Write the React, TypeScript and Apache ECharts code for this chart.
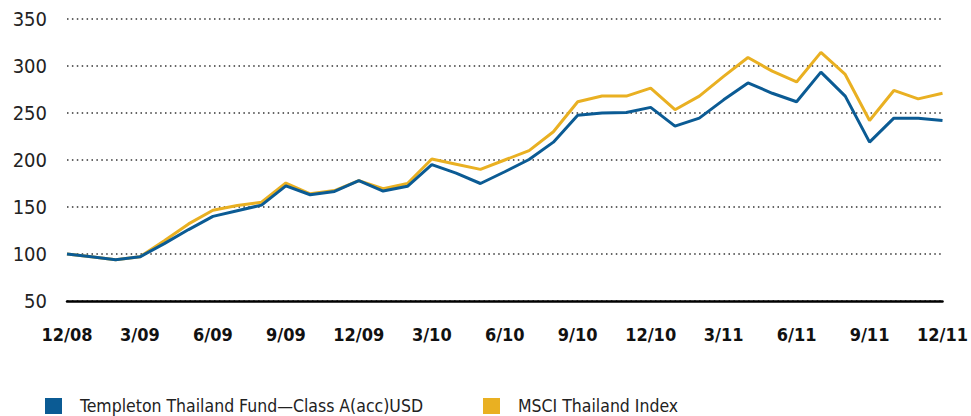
import React, { useEffect, useRef } from "react";
import * as echarts from "echarts";

const months: string[] = (() => {
  const out: string[] = ["12/08"];
  for (let y = 9; y <= 11; y++) {
    for (let m = 1; m <= 12; m++) out.push(`${m}/${String(y).padStart(2, "0")}`);
  }
  return out;
})();

const fundName = "Templeton Thailand Fund\u2014Class A(acc)USD";
const indexName = "MSCI Thailand Index";

const fundValues = [
  100, 97, 94, 97, 111, 126, 140, 146, 152, 172.5, 163, 166.5, 178,
  167, 172, 195, 186, 175, 187.5, 200.5, 219, 247.5, 250, 250.5, 256,
  236, 244.5, 264, 282, 271, 262, 293.5, 268, 219, 244.5, 244.5, 242,
];

const indexValues = [
  100, 97, 94, 97, 114, 132, 146.5, 151.5, 155, 175.5, 164, 167.5, 178,
  169.5, 175, 201, 195.5, 190, 200, 210, 230, 262, 268, 268, 276.5,
  253.5, 268, 289, 309, 294.5, 283, 314.5, 291, 242, 274, 265, 271,
];

const yMin = 50;
const yMax = 350;
const yStep = 50;

const FONT = "'DejaVu Sans Condensed', 'DejaVu Sans', sans-serif";

export default function App() {
  const ref = useRef<HTMLDivElement>(null);
  useEffect(() => {
    if (!ref.current) return;
    const chart = echarts.init(ref.current, undefined, { renderer: "svg" });
    chart.setOption({
      animation: false,
      backgroundColor: "#ffffff",
      grid: { left: 67, right: 25, top: 19, bottom: 115, containLabel: false },
      legend: {
        left: 40,
        top: 392,
        itemWidth: 17,
        itemHeight: 16,
        itemGap: 60,
        icon: "rect",
        textStyle: {
          fontFamily: FONT,
          fontSize: 17.5,
          color: "#222",
          padding: [0, 0, 0, 13],
        },
        data: [fundName, indexName],
      },
      xAxis: {
        type: "category",
        data: months,
        boundaryGap: false,
        axisLine: { show: true, lineStyle: { color: "#000", width: 2.5 } },
        axisTick: { show: false },
        axisLabel: {
          interval: 2,
          margin: 24,
          fontFamily: FONT,
          fontSize: 18,
          fontWeight: "bold",
          color: "#111",
        },
        splitLine: { show: false },
      },
      yAxis: {
        type: "value",
        min: yMin,
        max: yMax,
        interval: yStep,
        axisLine: { show: false },
        axisTick: { show: false },
        axisLabel: {
          margin: 20,
          fontFamily: FONT,
          fontSize: 20,
          color: "#222",
        },
        splitLine: {
          show: true,
          lineStyle: { color: "#333", width: 1.5, type: [1.5, 3.4] },
        },
      },
      series: [
        {
          name: indexName,
          type: "line",
          data: indexValues,
          symbol: "none",
          lineStyle: { color: "#e9b022", width: 3 },
          itemStyle: { color: "#e9b022" },
          z: 2,
        },
        {
          name: fundName,
          type: "line",
          data: fundValues,
          symbol: "none",
          lineStyle: { color: "#0b5b94", width: 3 },
          itemStyle: { color: "#0b5b94" },
          z: 3,
        },
      ],
    });
    return () => chart.dispose();
  }, []);
  return <div ref={ref} style={{ width: 971, height: 416, position: "absolute", left: 0, top: 0 }} />;
}
